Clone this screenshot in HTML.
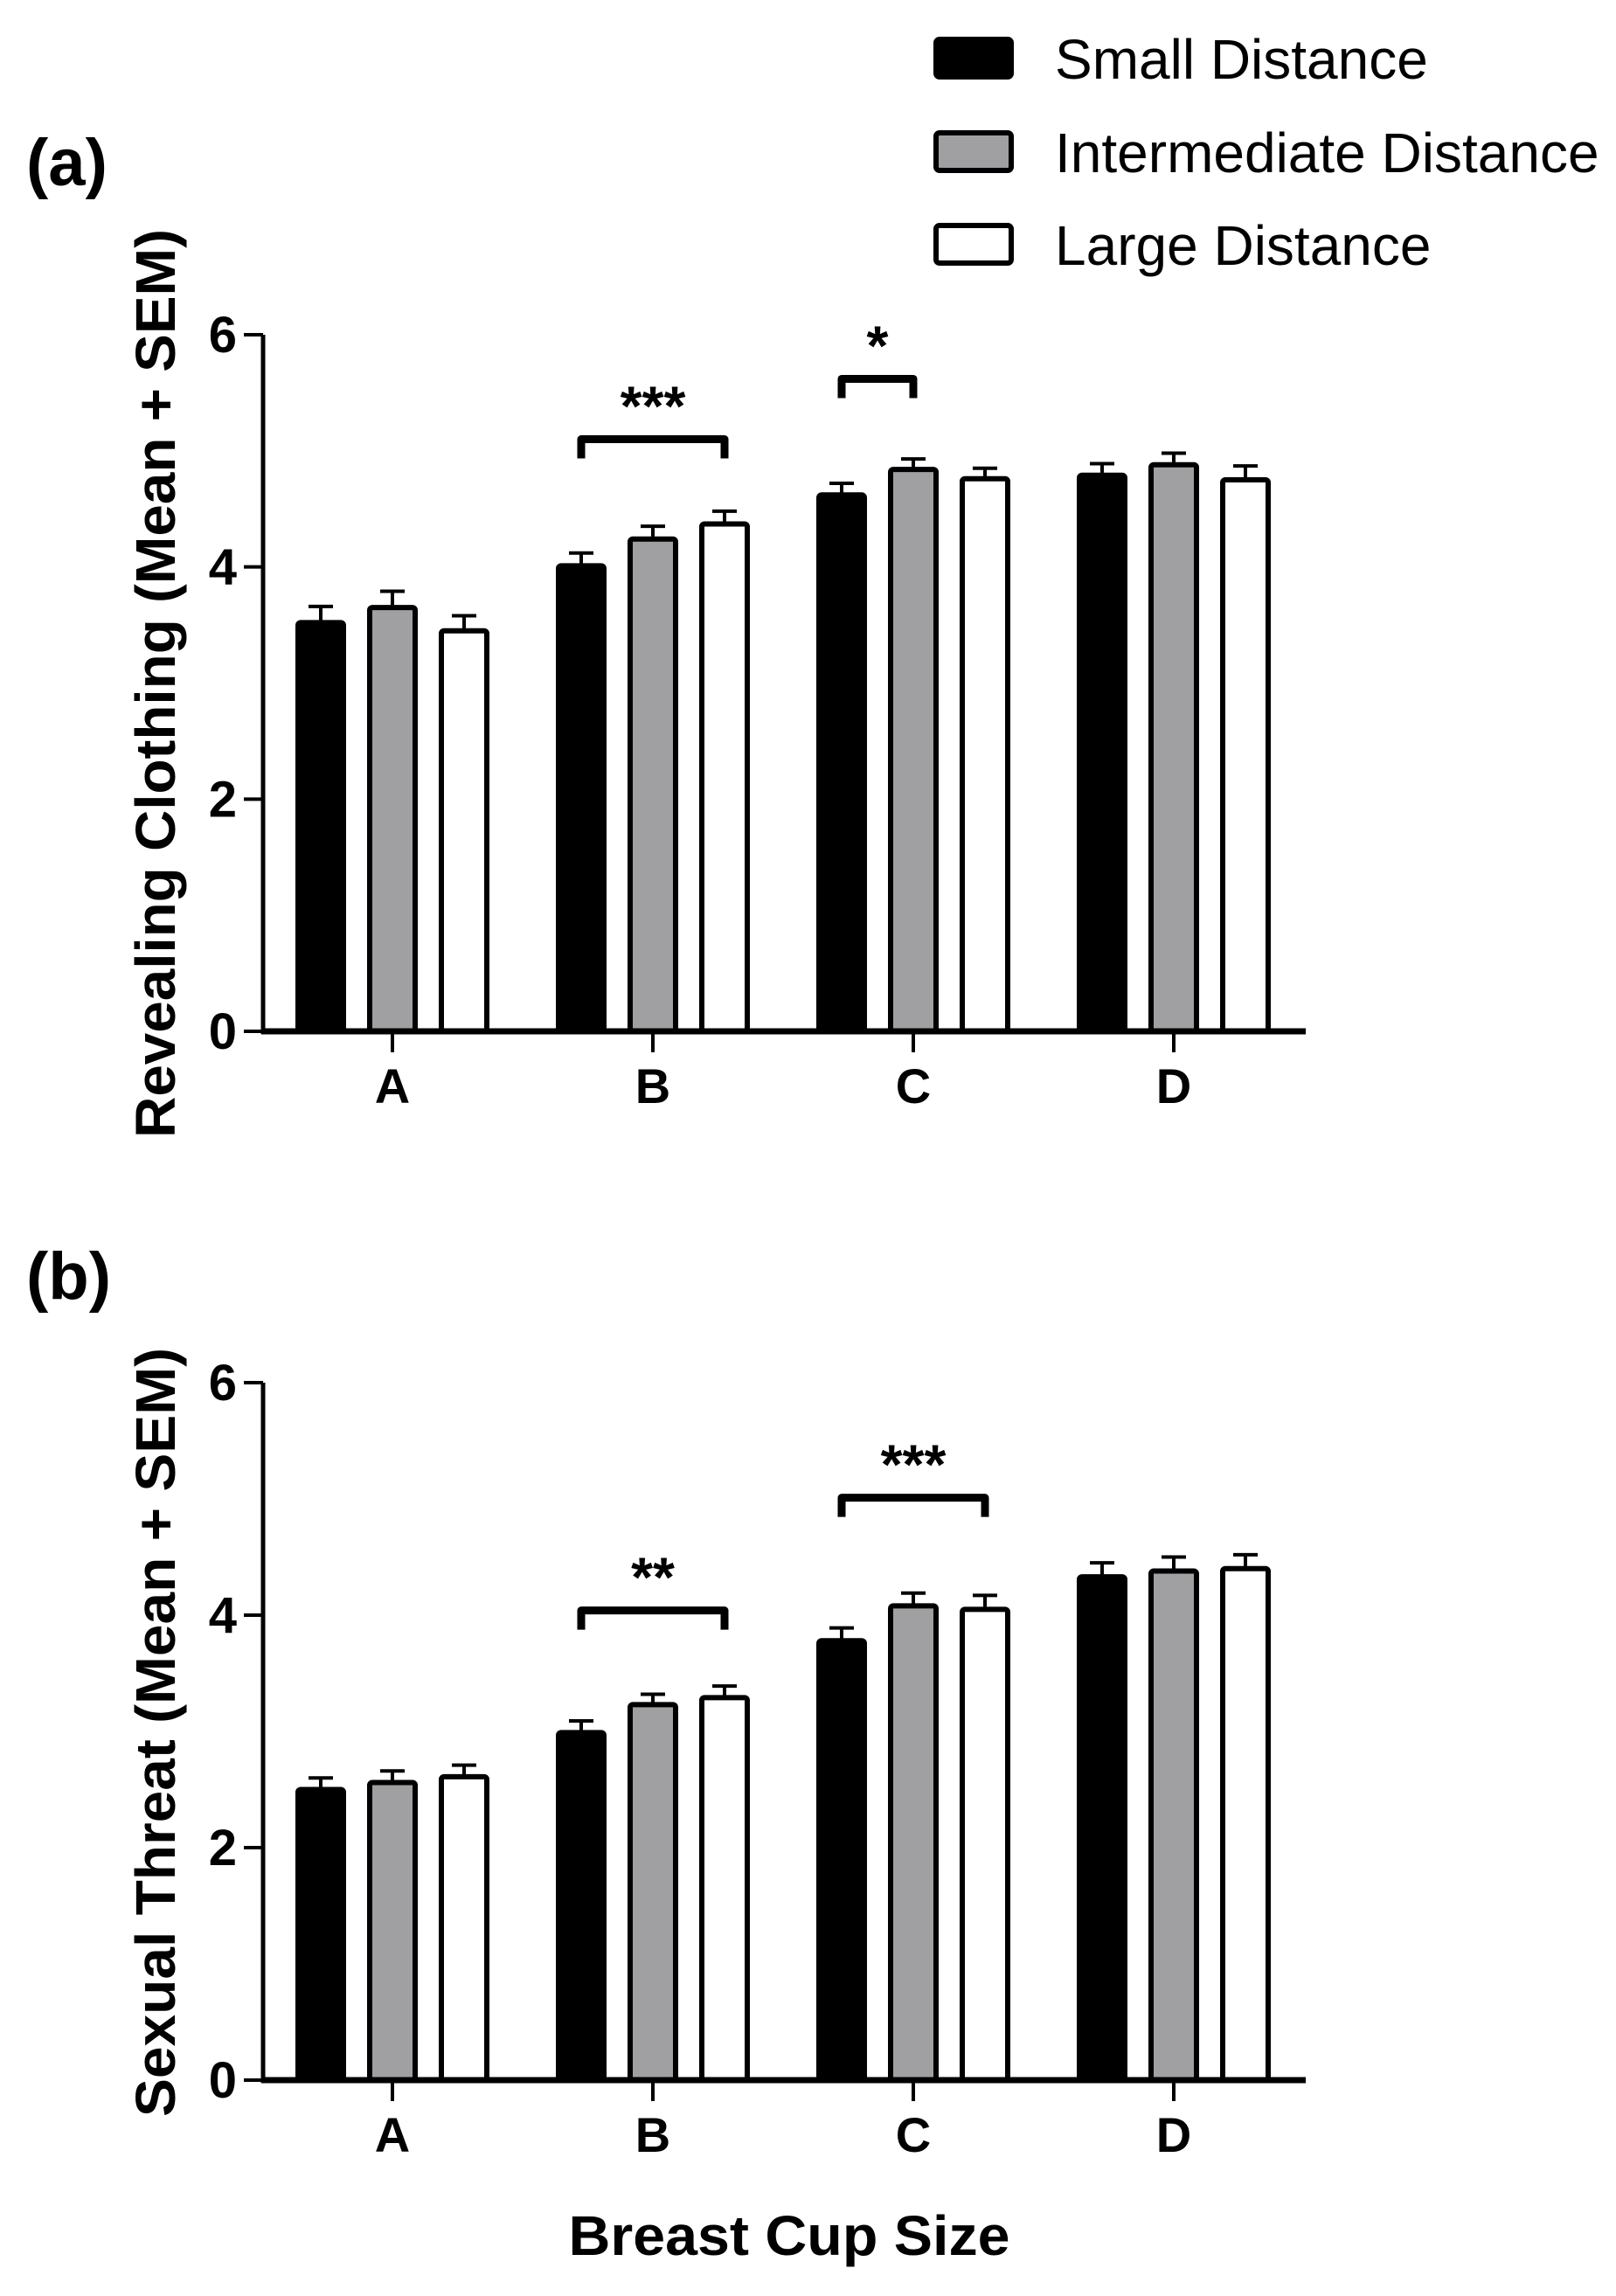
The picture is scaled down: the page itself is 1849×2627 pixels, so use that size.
<!DOCTYPE html>
<html><head><meta charset="utf-8"><style>
html,body{margin:0;padding:0;background:#fff;}
svg{display:block;}
text{font-family:"Liberation Sans",Arial,sans-serif;fill:#000;}
</style></head>
<body>
<svg id="fig" width="1849" height="2627" viewBox="0 0 1849 2627" xmlns="http://www.w3.org/2000/svg">
<g>
  <rect x="1071" y="45" width="86" height="43" rx="4" fill="#000" stroke="#000" stroke-width="6"/>
  <text x="1207" y="90" font-size="64">Small Distance</text>
  <rect x="1071" y="152" width="86" height="43" rx="4" fill="#a0a0a3" stroke="#000" stroke-width="6"/>
  <text x="1207" y="197" font-size="64">Intermediate Distance</text>
  <rect x="1071" y="258" width="86" height="43" rx="4" fill="#fff" stroke="#000" stroke-width="6"/>
  <text x="1207" y="303" font-size="64">Large Distance</text>
</g>
<text x="30" y="212" font-size="76" font-weight="bold">(a)</text>
<text x="30" y="1486" font-size="76" font-weight="bold">(b)</text>
<text transform="translate(200,782) rotate(-90)" text-anchor="middle" font-size="64" font-weight="bold" textLength="1040" lengthAdjust="spacingAndGlyphs">Revealing Clothing (Mean + SEM)</text>
<text transform="translate(200,1982) rotate(-90)" text-anchor="middle" font-size="64" font-weight="bold" textLength="880" lengthAdjust="spacingAndGlyphs">Sexual Threat (Mean + SEM)</text>
<text x="903" y="2580" text-anchor="middle" font-size="64" font-weight="bold" textLength="505" lengthAdjust="spacingAndGlyphs">Breast Cup Size</text>
<g id="pa"></g>
<g id="pb"></g>
</svg>
<script>
const categories = ["A","B","C","D"];
const seriesNames = ["Small Distance","Intermediate Distance","Large Distance"];
const yTicks = [0,2,4,6];
const aSmall = [3.52,4.01,4.62,4.79];
const aInter = [3.65,4.24,4.84,4.88];
const aLarge = [3.45,4.37,4.76,4.75];
const aSmallErr = [0.14,0.11,0.10,0.10];
const aInterErr = [0.14,0.11,0.09,0.10];
const aLargeErr = [0.13,0.11,0.09,0.12];
const bSmall = [2.50,2.99,3.78,4.33];
const bInter = [2.56,3.23,4.08,4.38];
const bLarge = [2.61,3.29,4.05,4.40];
const bSmallErr = [0.10,0.10,0.11,0.12];
const bInterErr = [0.10,0.09,0.11,0.12];
const bLargeErr = [0.10,0.10,0.12,0.12];
// significance brackets: [category index, from series, to series, level, label]
const aSig = [[1,0,2,5.10,"***"],[2,0,1,5.62,"*"]];
const bSig = [[1,0,2,4.04,"**"],[2,0,2,5.01,"***"]];

const NS="http://www.w3.org/2000/svg";
const fills=["#000","#a0a0a3","#fff"];
function mk(tag,attrs,parent){const e=document.createElementNS(NS,tag);for(const k in attrs)e.setAttribute(k,attrs[k]);parent.appendChild(e);return e;}

function drawPanel(g,key,y0,y6,series,errs,sig){
  const axX=301, axEnd=1494;
  const ys=v=>y0-(v/6)*(y0-y6);
  const xc=i=>449+i*298;
  const off=[-82,0,82], bw=52;
  series.forEach((vals,s)=>{
    vals.forEach((v,i)=>{
      const x=xc(i)+off[s];
      const r=mk('rect',{x:x-bw/2,y:ys(v),width:bw,height:y0-ys(v),rx:3,fill:fills[s],stroke:'#000','stroke-width':6},g);
      
      
      const e=errs[s][i];
      const l=mk('path',{d:`M${x} ${ys(v)} V${ys(v+e)} M${x-14} ${ys(v+e)} H${x+14}`,stroke:'#000','stroke-width':4,fill:'none'},g);
      
      
    });
  });
  const ya=mk('path',{d:`M${axX} ${y6} V${y0+3}`,stroke:'#000','stroke-width':5,fill:'none'},g);
  
  
  const xa=mk('path',{d:`M${axX-2} ${y0} H${axEnd}`,stroke:'#000','stroke-width':7,fill:'none'},g);
  
  
  yTicks.forEach(t=>{
    const tk=mk('path',{d:`M${axX-22} ${ys(t)} H${axX}`,stroke:'#000','stroke-width':4},g);
    
    
    const tl=mk('text',{x:271,y:ys(t)+20,'text-anchor':'end','font-size':58,'font-weight':'bold'},g);
    tl.textContent=t;
    
    
  });
  categories.forEach((c,i)=>{
    const tk=mk('path',{d:`M${xc(i)} ${y0} V${y0+24}`,stroke:'#000','stroke-width':4},g);
    
    
    const tl=mk('text',{x:xc(i),y:y0+82,'text-anchor':'middle','font-size':56,'font-weight':'bold'},g);
    tl.textContent=c;
    
    
  });
  sig.forEach(([ci,s1,s2,lvl,lab])=>{
    const x1=xc(ci)+off[s1], x2=xc(ci)+off[s2], y=ys(lvl);
    const br=mk('path',{d:`M${x1} ${y+22} V${y} H${x2} V${y+22}`,stroke:'#000','stroke-width':9,fill:'none','stroke-linejoin':'round'},g);
    
    
    const st=mk('text',{x:(x1+x2)/2,y:y-16,'text-anchor':'middle','font-size':64,'font-weight':'bold'},g);
    st.textContent=lab;
    
    
  });
}
drawPanel(document.getElementById('pa'),'a',1180,383,[aSmall,aInter,aLarge],[aSmallErr,aInterErr,aLargeErr],aSig);
drawPanel(document.getElementById('pb'),'b',2380,1582,[bSmall,bInter,bLarge],[bSmallErr,bInterErr,bLargeErr],bSig);
</script>
</body></html>
